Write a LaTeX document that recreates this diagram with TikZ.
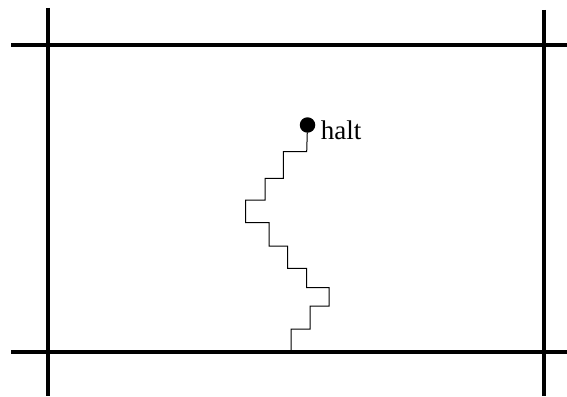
\documentclass[tikz,border=0pt]{standalone}
\usepackage{fontspec}
\setmainfont{Liberation Serif}
\usetikzlibrary{positioning}
\tikzset{
  wall/.style={line width=3.6pt},
  walk/.style={line width=1pt},
  haltdot/.style={circle,fill=black,inner sep=0pt,minimum size=15.5pt},
}
\begin{document}
\begin{tikzpicture}[x=1pt,y=-1pt]
\useasboundingbox (0,0) rectangle (567,396);
% boundary lines
\coordinate (lt) at (48,8);    \coordinate (lb) at (48,396);
\coordinate (rt) at (544,10);  \coordinate (rb) at (544,396);
\coordinate (tl) at (11,45);   \coordinate (tr) at (567,45);
\coordinate (bl) at (11,352);  \coordinate (br) at (567,352);
\draw[wall] (lt)--(lb); \draw[wall] (rt)--(rb);
\draw[wall] (tl)--(tr); \draw[wall] (bl)--(br);
% halting point and path from the lower boundary
\node[haltdot] (halt) at (307.5,125) {};
\node[font=\fontsize{27}{30}\selectfont,right=2pt of halt,yshift=-5pt] (hl) {halt};
\coordinate (start) at (291,351);
\draw[walk] (start) |- (310,329) |- (329,306) |- (306.7,287.7) |- (287.7,268.3)
  |- (269,246) |- (245.7,222.7) |- (265,200) |- (283.3,178.3) |- (306.7,151.7) -- (halt);
\end{tikzpicture}
\end{document}
